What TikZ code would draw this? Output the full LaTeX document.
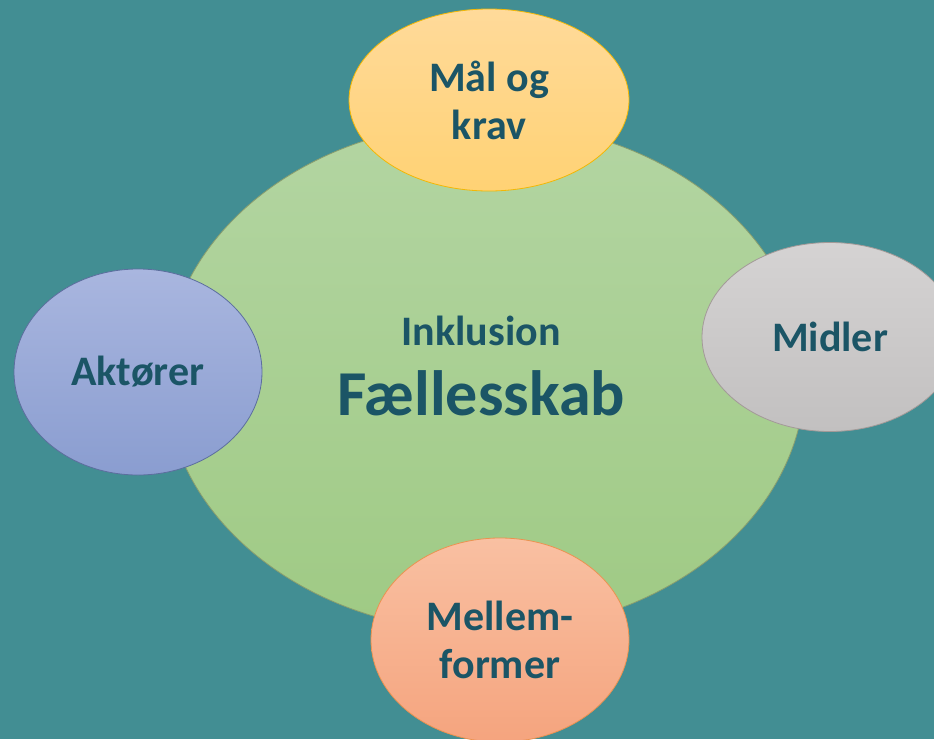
\documentclass[tikz,border=0pt]{standalone}
\usepackage{fontspec}
\setmainfont{Carlito}
\usetikzlibrary{shapes.geometric}
\definecolor{bg}{HTML}{428E93}
\definecolor{txt}{HTML}{1B5566}
\definecolor{greentop}{HTML}{B3D5A2}
\definecolor{greenbot}{HTML}{9FCA84}
\definecolor{greenline}{HTML}{8A9E6E}
\definecolor{goldtop}{HTML}{FFDA9A}
\definecolor{goldbot}{HTML}{FFD274}
\definecolor{goldline}{HTML}{F2B705}
\definecolor{greytop}{HTML}{D5D3D3}
\definecolor{greybot}{HTML}{C2C0C0}
\definecolor{greyline}{HTML}{A39A98}
\definecolor{bluetop}{HTML}{A9B6DF}
\definecolor{bluebot}{HTML}{8A9DD0}
\definecolor{blueline}{HTML}{5C6E9E}
\definecolor{salmontop}{HTML}{F9C0A2}
\definecolor{salmonbot}{HTML}{F5A47E}
\definecolor{salmonline}{HTML}{EC9250}
\begin{document}
\begin{tikzpicture}[x=1pt,y=-1pt,
  topic/.style={ellipse,inner sep=0pt,line width=0.8pt,align=center,text=txt,
    font=\bfseries\fontsize{42}{48}\selectfont}]
  \useasboundingbox (0,0) rectangle (934,739);
  \clip (0,0) rectangle (934,739);
  \fill[bg] (0,0) rectangle (934,739);
  % centre
  \node[topic,draw=greenline,top color=greentop,bottom color=greenbot,
    minimum width=640,minimum height=510] (core) at (485,377) {};
  \node[text=txt,align=center,font=\bfseries\fontsize{64}{70}\selectfont]
    (coretext) at (481,366) {{\fontsize{42}{48}\selectfont Inklusion}\\Fællesskab};
  % satellites
  \node[topic,draw=goldline,top color=goldtop,bottom color=goldbot,
    minimum width=280,minimum height=182] (maal) at (489,100) {Mål og\\krav};
  \node[topic,draw=greyline,top color=greytop,bottom color=greybot,
    minimum width=256,minimum height=189] (midler) at (830,337) {Midler};
  \node[topic,draw=blueline,top color=bluetop,bottom color=bluebot,
    minimum width=248,minimum height=206] (aktoerer) at (138,372) {Aktører};
  \node[topic,draw=salmonline,top color=salmontop,bottom color=salmonbot,
    minimum width=258,minimum height=204] (mellem) at (500,640) {Mellem-\\former};
\end{tikzpicture}
\end{document}
